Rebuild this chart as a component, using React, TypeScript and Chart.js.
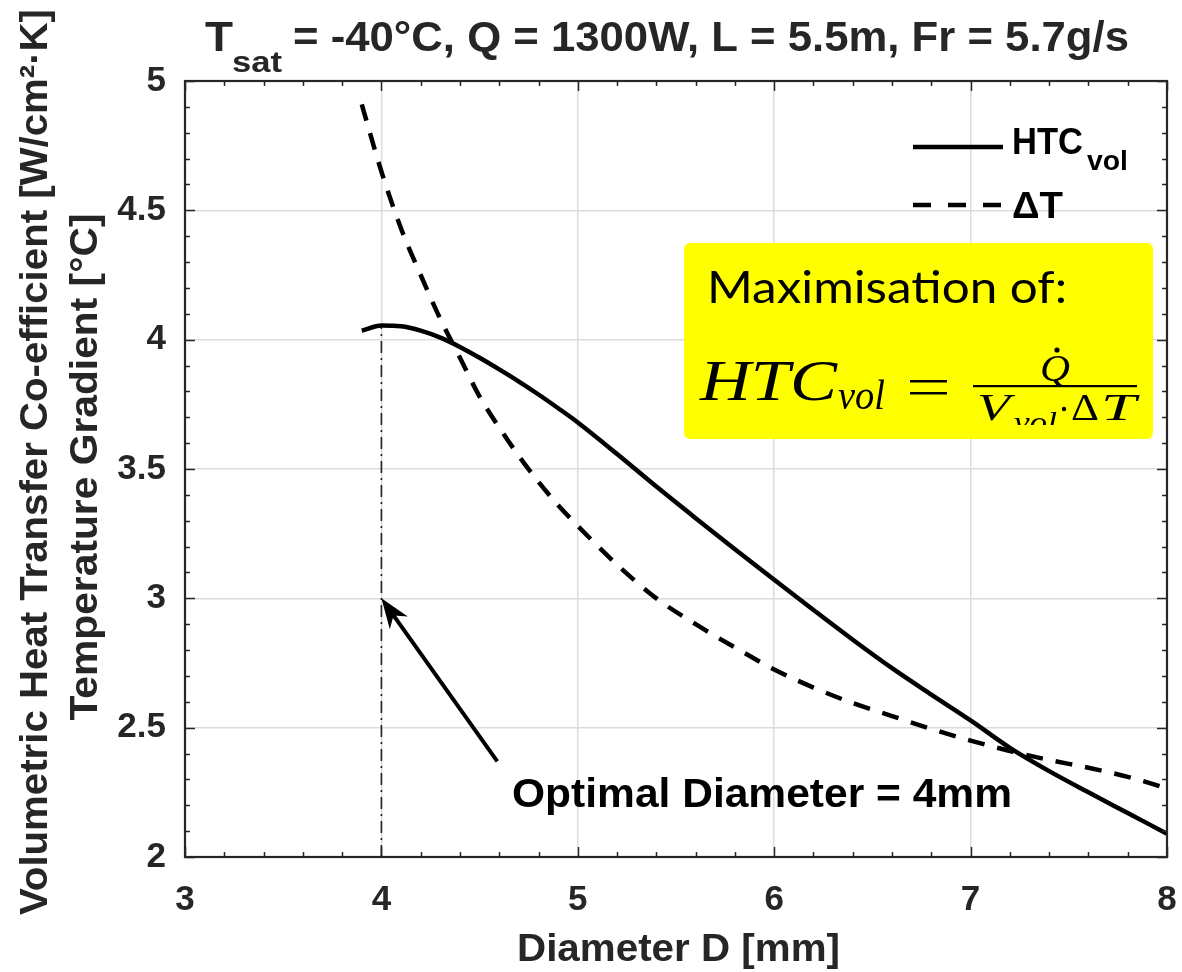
import React, { useEffect, useRef } from "react";
import { Chart, registerables } from "chart.js";

Chart.register(...registerables);

// ---- Data ----
const DIAMETER_MM = [3.9, 4.0, 4.1, 4.2, 4.3, 4.4, 4.5, 4.6, 4.7, 4.8, 4.9, 5.0, 5.2, 5.4, 5.6, 5.8, 6.0, 6.2, 6.4, 6.6, 6.8, 7.0, 7.2, 7.4, 7.6, 7.8, 8.0];
const HTC_VOL = [4.035, 4.055, 4.052, 4.035, 4.008, 3.972, 3.93, 3.885, 3.838, 3.788, 3.735, 3.68, 3.558, 3.432, 3.31, 3.19, 3.072, 2.955, 2.84, 2.73, 2.628, 2.528, 2.422, 2.332, 2.25, 2.17, 2.09];
const DELTA_T = [4.91, 4.65, 4.43, 4.25, 4.08, 3.93, 3.78, 3.66, 3.55, 3.45, 3.36, 3.28, 3.13, 3.0, 2.9, 2.81, 2.725, 2.655, 2.595, 2.545, 2.495, 2.45, 2.41, 2.375, 2.345, 2.31, 2.265];
const OPTIMAL_X = [4.0, 4.0];
const OPTIMAL_Y = [2.0, 4.055];
const ARROW_TIP = { x: 4.0, y: 3.0 };
const ARROW_TAIL = { x: 4.59, y: 2.37 };

const TITLE_MAIN = "T";
const TITLE_SUB = "sat";
const TITLE_REST = "= -40°C, Q = 1300W, L = 5.5m, Fr = 5.7g/s";
const X_TITLE = "Diameter D [mm]";
const Y_TITLE_1 = "Volumetric Heat Transfer Co-efficient [W/cm²·K]";
const Y_TITLE_2 = "Temperature Gradient [°C]";
const LEGEND_HTC = "HTC";
const LEGEND_HTC_SUB = "vol";
const LEGEND_DT = "ΔT";
const ANNOTATION = "Optimal Diameter = 4mm";
const BOX_HEADING = "Maximisation of:";

const SANS = "'Liberation Sans', Arial, Helvetica, sans-serif";
const SERIF = "'Liberation Serif', 'Times New Roman', serif";
const DARK = "#262626";

function fitText(ctx: CanvasRenderingContext2D, text: string, x: number, y: number, width: number, font: string, color = "#000") {
  ctx.save();
  ctx.font = font;
  ctx.fillStyle = color;
  ctx.textAlign = "left";
  ctx.textBaseline = "alphabetic";
  const w = ctx.measureText(text).width || 1;
  ctx.translate(x, y);
  ctx.scale(width / w, 1);
  ctx.fillText(text, 0, 0);
  ctx.restore();
}

function fitTextRotated(ctx: CanvasRenderingContext2D, text: string, baseX: number, centerY: number, length: number, font: string, color: string) {
  ctx.save();
  ctx.font = font;
  ctx.fillStyle = color;
  ctx.textAlign = "center";
  ctx.textBaseline = "alphabetic";
  const w = ctx.measureText(text).width || 1;
  ctx.translate(baseX, centerY);
  ctx.rotate(-Math.PI / 2);
  ctx.scale(length / w, 1);
  ctx.fillText(text, 0, 0);
  ctx.restore();
}

const decorPlugin = {
  id: "decor",
  afterDraw(chart: any) {
    const ctx: CanvasRenderingContext2D = chart.ctx;
    const { left, right, top, bottom } = chart.chartArea;
    const xs = chart.scales.x;
    const ys = chart.scales.y;

    // inward ticks, all four sides
    ctx.save();
    ctx.strokeStyle = DARK;
    ctx.lineWidth = 1.5;
    ctx.beginPath();
    for (let i = 0; i <= 25; i++) {
      const v = 3 + i * 0.2;
      const px = Math.round(xs.getPixelForValue(v)) + 0.5;
      const len = i % 5 === 0 ? 10 : 5;
      ctx.moveTo(px, bottom);
      ctx.lineTo(px, bottom - len);
      ctx.moveTo(px, top);
      ctx.lineTo(px, top + len);
    }
    for (let i = 0; i <= 30; i++) {
      const v = 2 + i * 0.1;
      const py = Math.round(ys.getPixelForValue(v)) + 0.5;
      const len = i % 5 === 0 ? 10 : 5;
      ctx.moveTo(left, py);
      ctx.lineTo(left + len, py);
      ctx.moveTo(right, py);
      ctx.lineTo(right - len, py);
    }
    ctx.stroke();
    ctx.lineWidth = 2.2;
    ctx.strokeRect(left, top, right - left, bottom - top);
    ctx.restore();

    // title
    fitText(ctx, TITLE_MAIN, 205, 51, 28, `bold 42px ${SANS}`, DARK);
    fitText(ctx, TITLE_SUB, 232, 72, 50, `bold 29px ${SANS}`, DARK);
    fitText(ctx, TITLE_REST, 293, 51, 836, `bold 42px ${SANS}`, DARK);

    // axis titles
    fitText(ctx, X_TITLE, 517, 961, 323, `bold 39px ${SANS}`, DARK);
    fitTextRotated(ctx, Y_TITLE_1, 47, 462, 906, `bold 39px ${SANS}`, DARK);
    fitTextRotated(ctx, Y_TITLE_2, 97, 467, 507, `bold 39px ${SANS}`, DARK);

    // legend
    ctx.save();
    ctx.strokeStyle = "#000";
    ctx.lineWidth = 4.5;
    ctx.beginPath();
    ctx.moveTo(913, 147);
    ctx.lineTo(1003, 147);
    ctx.stroke();
    ctx.setLineDash([18, 17]);
    ctx.beginPath();
    ctx.moveTo(913, 205);
    ctx.lineTo(1003, 205);
    ctx.stroke();
    ctx.restore();
    fitText(ctx, LEGEND_HTC, 1012, 154, 71, `bold 37px ${SANS}`, "#000");
    fitText(ctx, LEGEND_HTC_SUB, 1087, 170, 41, `bold 28px ${SANS}`, "#000");
    fitText(ctx, LEGEND_DT, 1012, 218, 51, `bold 37px ${SANS}`, "#000");

    // yellow box
    ctx.save();
    ctx.fillStyle = "#ffff00";
    ctx.beginPath();
    (ctx as any).roundRect(684, 243, 469, 196, 6);
    ctx.fill();
    ctx.restore();
    fitText(ctx, BOX_HEADING, 707, 303, 360, `44px Lato, 'Open Sans', sans-serif`, "#000");
    // formula
    fitText(ctx, "HTC", 700, 400, 137, `italic 56px ${SERIF}`, "#000");
    fitText(ctx, "vol", 838, 409, 47, `italic 42px ${SERIF}`, "#000");
    ctx.save();
    ctx.fillStyle = "#000";
    ctx.fillRect(910, 380, 37, 2.5);
    ctx.fillRect(910, 392, 37, 2.5);
    ctx.fillRect(973, 385, 164, 2.2);
    ctx.beginPath();
    ctx.arc(1057, 350, 2.6, 0, Math.PI * 2);
    ctx.fill();
    ctx.restore();
    fitText(ctx, "Q", 1040, 381, 30, `italic 38px ${SERIF}`, "#000");
    ctx.save();
    ctx.beginPath();
    ctx.rect(684, 386, 469, 39);
    ctx.clip();
    fitText(ctx, "V", 977, 420, 33, `italic 38px ${SERIF}`, "#000");
    fitText(ctx, "vol", 1014, 432, 43, `italic 30px ${SERIF}`, "#000");
    ctx.fillStyle = "#000";
    ctx.beginPath();
    ctx.arc(1064, 409, 2.2, 0, Math.PI * 2);
    ctx.fill();
    fitText(ctx, "Δ", 1071, 420, 28, `38px ${SERIF}`, "#000");
    fitText(ctx, "T", 1101, 420, 35, `italic 38px ${SERIF}`, "#000");
    ctx.restore();

    // arrow
    const tx = xs.getPixelForValue(ARROW_TIP.x);
    const ty = ys.getPixelForValue(ARROW_TIP.y);
    const sx = xs.getPixelForValue(ARROW_TAIL.x);
    const sy = ys.getPixelForValue(ARROW_TAIL.y);
    const ang = Math.atan2(ty - sy, tx - sx);
    const headLen = 30;
    const headW = 11;
    const ux = Math.cos(ang), uy = Math.sin(ang);
    const bx = tx - ux * headLen, by = ty - uy * headLen;
    const nx = -uy, ny = ux;
    ctx.save();
    ctx.strokeStyle = "#000";
    ctx.lineWidth = 4;
    ctx.beginPath();
    ctx.moveTo(sx, sy);
    ctx.lineTo(tx - ux * 12, ty - uy * 12);
    ctx.stroke();
    ctx.fillStyle = "#000";
    ctx.beginPath();
    ctx.moveTo(tx, ty);
    ctx.lineTo(bx + nx * headW, by + ny * headW);
    ctx.lineTo(tx - ux * headLen * 0.7, ty - uy * headLen * 0.7);
    ctx.lineTo(bx - nx * headW, by - ny * headW);
    ctx.closePath();
    ctx.fill();
    ctx.restore();

    fitText(ctx, ANNOTATION, 512, 807, 500, `bold 40px ${SANS}`, "#000");
  },
};

export default function App() {
  const ref = useRef<HTMLCanvasElement | null>(null);
  useEffect(() => {
    if (!ref.current) return;
    const toPts = (xs: number[], ys: number[]) => xs.map((x, i) => ({ x, y: ys[i] }));
    const tickFmt = (v: any) => `${+Number(v).toFixed(2)}`;
    const chart = new Chart(ref.current, {
      type: "scatter",
      data: {
        datasets: [
          {
            label: "HTC_vol",
            data: toPts(DIAMETER_MM, HTC_VOL),
            showLine: true,
            borderColor: "#000",
            borderWidth: 4.5,
            pointRadius: 0,
            cubicInterpolationMode: "monotone",
          },
          {
            label: "ΔT",
            data: toPts(DIAMETER_MM, DELTA_T),
            showLine: true,
            borderColor: "#000",
            borderWidth: 4.5,
            borderDash: [17, 13],
            pointRadius: 0,
            cubicInterpolationMode: "monotone",
          },
          {
            label: "Optimal",
            data: toPts(OPTIMAL_X, OPTIMAL_Y),
            showLine: true,
            borderColor: "#222",
            borderWidth: 1.6,
            borderDash: [12, 5, 2, 5],
            pointRadius: 0,
          },
        ],
      } as any,
      options: {
        animation: false,
        responsive: false,
        devicePixelRatio: 1,
        layout: { padding: { top: 81, right: 15, bottom: 0, left: 0 } },
        plugins: { legend: { display: false }, title: { display: false }, tooltip: { enabled: false } },
        scales: {
          x: {
            type: "linear",
            min: 3,
            max: 8,
            afterFit: (s: any) => { s.height = 115; s.paddingLeft = 0; s.paddingRight = 0; },
            ticks: { stepSize: 1, padding: 22, color: DARK, callback: tickFmt, font: { family: SANS, weight: "bold", size: 35 } },
            grid: { color: "#dcdcdc", lineWidth: 1.5, drawTicks: false },
            border: { display: false },
          },
          y: {
            type: "linear",
            min: 2,
            max: 5,
            afterFit: (s: any) => { s.width = 185; s.paddingTop = 0; s.paddingBottom = 0; },
            ticks: { stepSize: 0.5, padding: 19, color: DARK, callback: tickFmt, font: { family: SANS, weight: "bold", size: 35 } },
            grid: { color: "#dcdcdc", lineWidth: 1.5, drawTicks: false },
            border: { display: false },
          },
        },
      } as any,
      plugins: [decorPlugin],
    });
    return () => chart.destroy();
  }, []);
  return (
    <div style={{ position: "fixed", left: 0, top: 0, width: 1182, height: 972, background: "#fff" }}>
      <canvas ref={ref} width={1182} height={972} style={{ width: 1182, height: 972, display: "block" }} />
    </div>
  );
}
